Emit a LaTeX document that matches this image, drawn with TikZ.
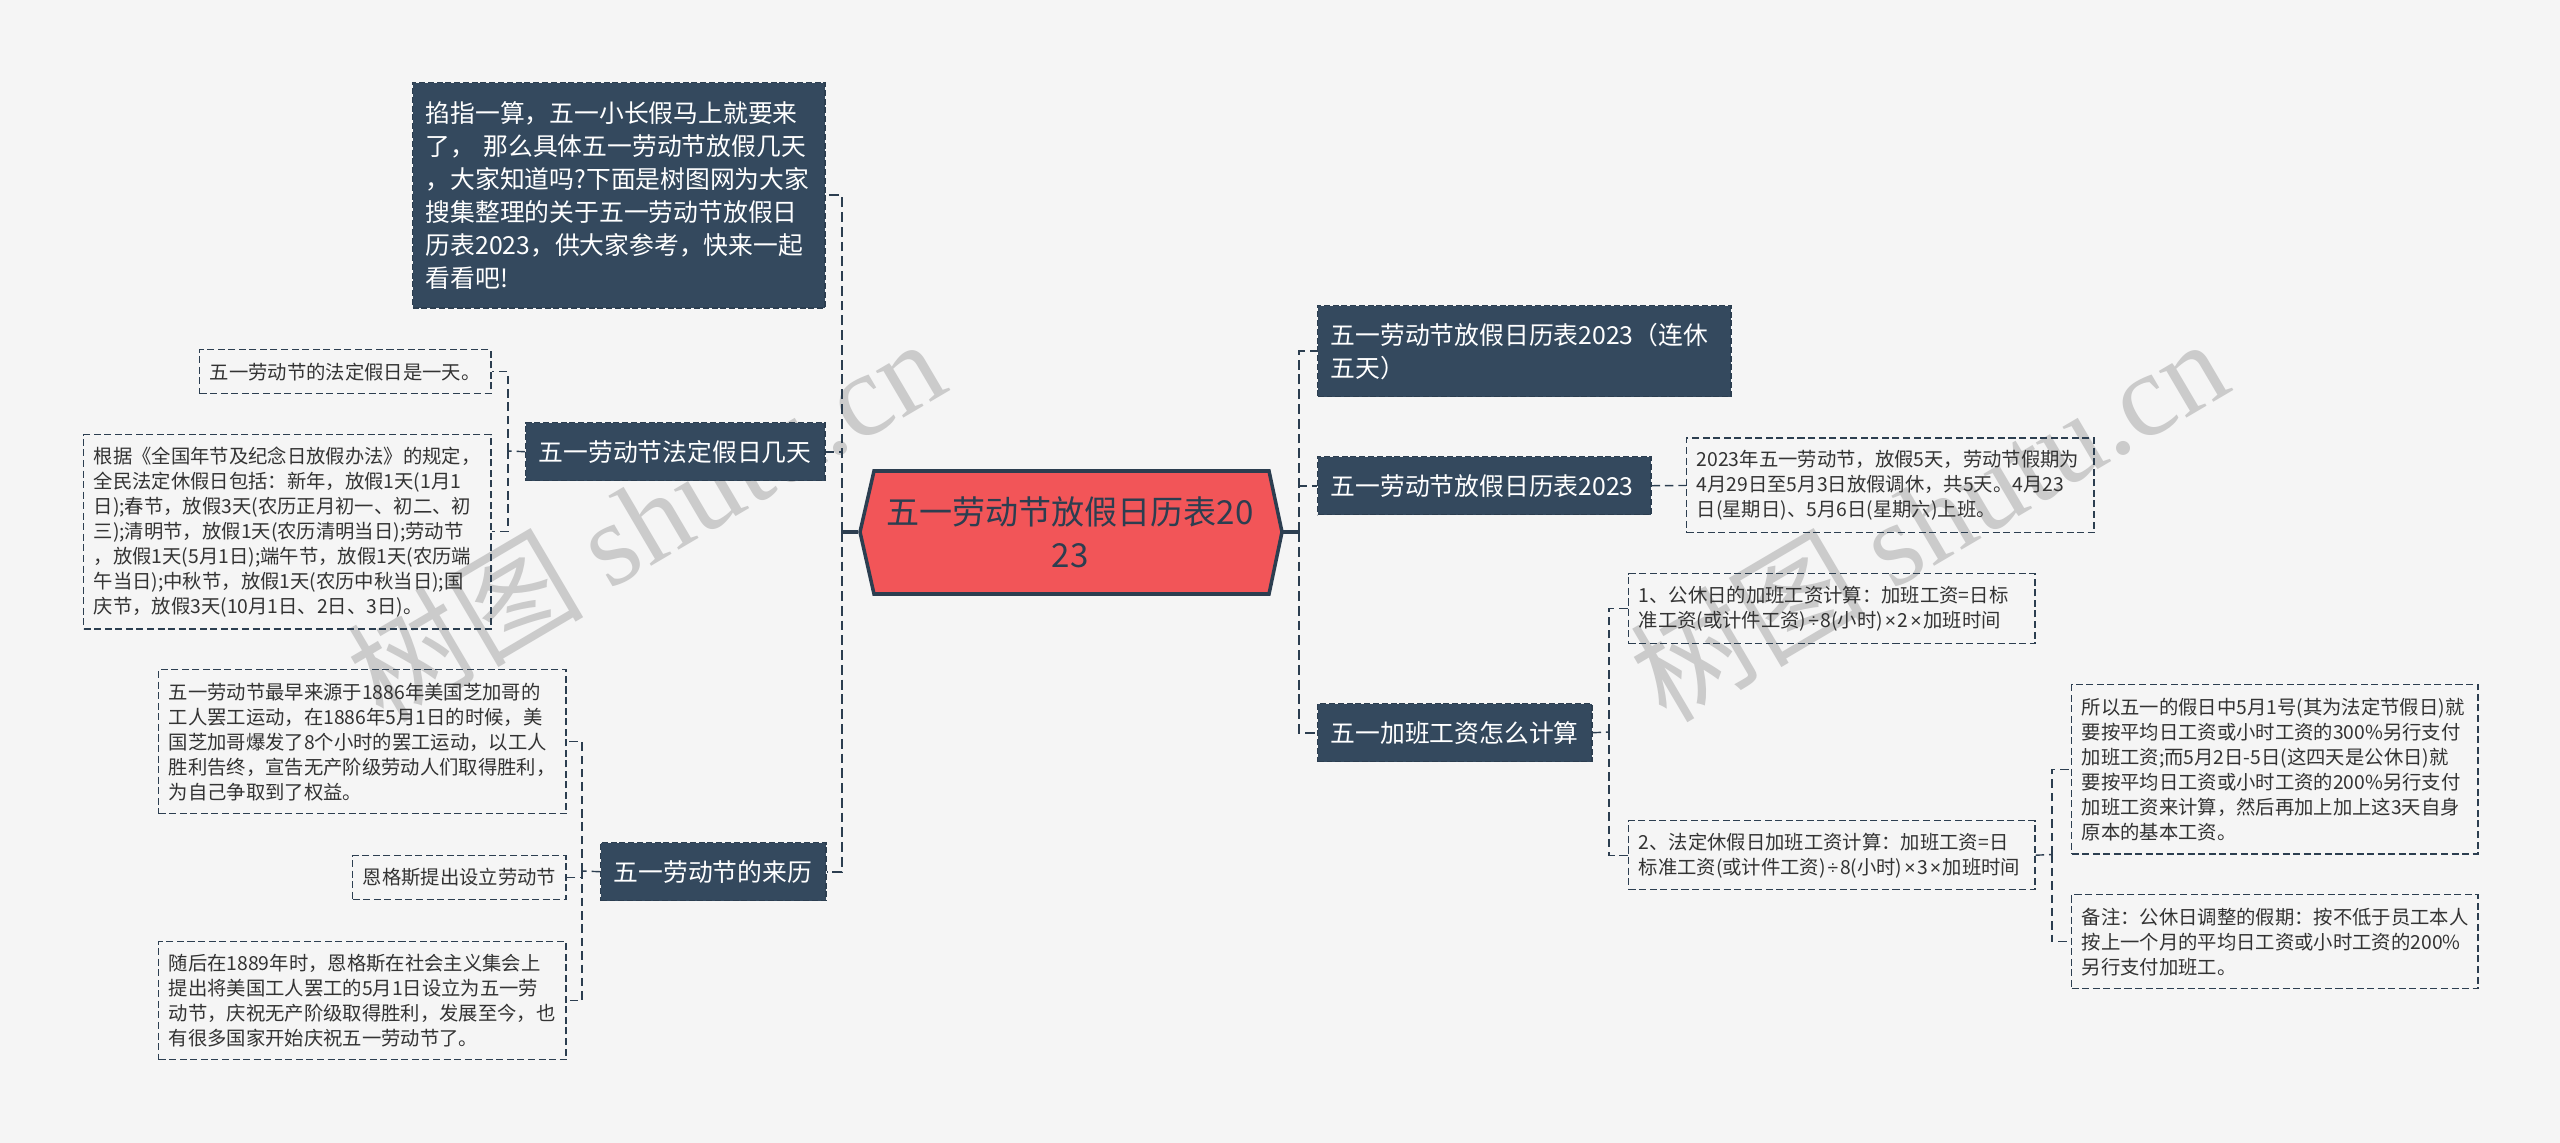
\documentclass[tikz,border=0pt]{standalone}
\usepackage{fontspec}
\setmainfont{Noto Sans CJK SC}
\newfontfamily\markfont{Liberation Serif}
\newfontfamily\signfont{Liberation Sans}
\newcommand{\opsign}[1]{\kern0.5pt{\signfont #1}\kern0.5pt}
\definecolor{pagebg}{HTML}{F5F5F5}
\definecolor{slate}{HTML}{34495E}
\definecolor{slateline}{HTML}{2C3E50}
\definecolor{rootred}{HTML}{F25558}
\definecolor{notetext}{HTML}{333333}
\definecolor{marktext}{HTML}{CBCBCB}
\tikzset{
  rootbox/.style={text=slateline,align=center,inner sep=0,minimum width=4.22cm,
    font=\fontsize{9.4}{12.3}\selectfont},
  branchbox/.style={anchor=north west,fill=slate,draw=slateline,line width=0.4pt,
    dash pattern=on 1.7pt off 0.8pt,text=white,align=left,inner xsep=0.13cm,inner ysep=0,
    font=\fontsize{7.05}{9.4}\selectfont},
  notebox/.style={anchor=north west,draw=slateline,line width=0.4pt,
    dash pattern=on 2pt off 1pt,text=notetext,align=left,inner xsep=0.1cm,inner ysep=0,
    font=\fontsize{5.5}{7.1}\selectfont},
  link/.style={draw=slateline,line width=0.4pt,dash pattern=on 2.4pt off 1.4pt},
  mainlink/.style={draw=slateline,line width=0.6pt,dash pattern=on 2.8pt off 1.4pt},
  trunk/.style={draw=slateline,line width=1pt},
  markbox/.style={text=marktext,rotate=30.5,inner sep=0,font=\fontsize{33.6}{34}\selectfont},
}
\begin{document}
\begin{tikzpicture}[x=0.01cm,y=-0.01cm]
  \fill[pagebg] (0,0) rectangle (2560,1143);
  \useasboundingbox (0,0) rectangle (2560,1143);
  % watermarks
  \node[markbox] (markleft) at (645,518) {树图 {\markfont shutu.cn}};
  \node[markbox] (markright) at (1928,518) {树图 {\markfont shutu.cn}};
  % root
  \draw[trunk,fill=rootred] (860,532) -- (874,471) -- (1269,471) -- (1282,532) -- (1269,594) -- (874,594) -- cycle;
  \node[rootbox] (root) at (1070,532) {五一劳动节放假日历表20\\23};
  % left side
  \node[branchbox,text width=3.86cm,minimum height=2.25cm] (intro) at (412,82) {掐指一算，五一小长假马上就要来\\了， 那么具体五一劳动节放假几天\\，大家知道吗?下面是树图网为大家\\搜集整理的关于五一劳动节放假日\\历表2023，供大家参考，快来一起\\看看吧!};
  \node[branchbox,text width=2.73cm,minimum height=0.58cm] (legal) at (525,422) {五一劳动节法定假日几天};
  \node[branchbox,text width=1.99cm,minimum height=0.58cm] (origin) at (600,842) {五一劳动节的来历};
  \node[notebox,text width=2.71cm,minimum height=0.44cm] (legalone) at (199,349) {五一劳动节的法定假日是一天。};
  \node[notebox,text width=3.87cm,minimum height=1.94cm] (legaltwo) at (83,434) {根据《全国年节及纪念日放假办法》的规定，\\全民法定休假日包括：新年，放假1天(1月1\\日);春节，放假3天(农历正月初一、初二、初\\三);清明节，放假1天(农历清明当日);劳动节\\，放假1天(5月1日);端午节，放假1天(农历端\\午当日);中秋节，放假1天(农历中秋当日);国\\庆节，放假3天(10月1日、2日、3日)。};
  \node[notebox,text width=3.87cm,minimum height=1.44cm] (originone) at (158,669) {五一劳动节最早来源于1886年美国芝加哥的\\工人罢工运动，在1886年5月1日的时候，美\\国芝加哥爆发了8个小时的罢工运动，以工人\\胜利告终，宣告无产阶级劳动人们取得胜利，\\为自己争取到了权益。};
  \node[notebox,text width=1.93cm,minimum height=0.44cm] (origintwo) at (352,855) {恩格斯提出设立劳动节};
  \node[notebox,text width=3.87cm,minimum height=1.18cm] (originthree) at (158,941) {随后在1889年时，恩格斯在社会主义集会上\\提出将美国工人罢工的5月1日设立为五一劳\\动节，庆祝无产阶级取得胜利，发展至今，也\\有很多国家开始庆祝五一劳动节了。};
  % right side
  \node[branchbox,text width=3.87cm,minimum height=0.91cm] (calendarfive) at (1317,305) {五一劳动节放假日历表2023（连休\\五天）};
  \node[branchbox,text width=3.07cm,minimum height=0.58cm] (calendar) at (1317,456) {五一劳动节放假日历表2023};
  \node[branchbox,text width=2.48cm,minimum height=0.58cm] (overtime) at (1317,703) {五一加班工资怎么计算};
  \node[notebox,text width=3.87cm,minimum height=0.945cm] (calendarnote) at (1686,437.5) {2023年五一劳动节，放假5天，劳动节假期为\\4月29日至5月3日放假调休，共5天。4月23\\日(星期日)、5月6日(星期六)上班。};
  \node[notebox,text width=3.86cm,minimum height=0.70cm] (restday) at (1628,573) {1、公休日的加班工资计算：加班工资=日标\\准工资(或计件工资)\opsign{÷}8(小时)\opsign{×}2\opsign{×}加班时间};
  \node[notebox,text width=3.86cm,minimum height=0.69cm] (holiday) at (1628,820) {2、法定休假日加班工资计算：加班工资=日\\标准工资(或计件工资)\opsign{÷}8(小时)\opsign{×}3\opsign{×}加班时间};
  \node[notebox,text width=3.86cm,minimum height=1.69cm] (holidayone) at (2071,684) {所以五一的假日中5月1号(其为法定节假日)就\\要按平均日工资或小时工资的300\%另行支付\\加班工资;而5月2日-5日(这四天是公休日)就\\要按平均日工资或小时工资的200\%另行支付\\加班工资来计算，然后再加上加上这3天自身\\原本的基本工资。};
  \node[notebox,text width=3.86cm,minimum height=0.94cm] (holidaytwo) at (2071,894) {备注：公休日调整的假期：按不低于员工本人\\按上一个月的平均日工资或小时工资的200\%\\另行支付加班工。};
  % spines
  \coordinate (leftspine) at (842,532);
  \coordinate (rightspine) at (1299,532);
  \coordinate (legalspine) at (508,451);
  \coordinate (originspine) at (582,871);
  \coordinate (overtimespine) at (1609,732);
  \coordinate (holidayspine) at (2052,854.5);
  % connectors
  \draw[trunk] (root.west) -- (leftspine);
  \draw[trunk] (root.east) -- (rightspine);
  \draw[mainlink] (leftspine) |- (intro.east);
  \draw[mainlink] (leftspine) |- (legal.east);
  \draw[mainlink] (leftspine) |- (origin.east);
  \draw[mainlink] (rightspine) |- (calendarfive.west);
  \draw[mainlink] (rightspine) |- (calendar.west);
  \draw[mainlink] (rightspine) |- (overtime.west);
  \draw[link] (legal.west) -- (legalspine);
  \draw[link] (legalspine) |- (legalone.east);
  \draw[link] (legalspine) |- (legaltwo.east);
  \draw[link] (origin.west) -- (originspine);
  \draw[link] (originspine) |- (originone.east);
  \draw[link] (originspine) |- (origintwo.east);
  \draw[link] (originspine) |- (originthree.east);
  \draw[link] (calendar.east) -- (calendarnote.west);
  \draw[link] (overtime.east) -- (overtimespine);
  \draw[link] (overtimespine) |- (restday.west);
  \draw[link] (overtimespine) |- (holiday.west);
  \draw[link] (holiday.east) -- (holidayspine);
  \draw[link] (holidayspine) |- (holidayone.west);
  \draw[link] (holidayspine) |- (holidaytwo.west);
\end{tikzpicture}
\end{document}
